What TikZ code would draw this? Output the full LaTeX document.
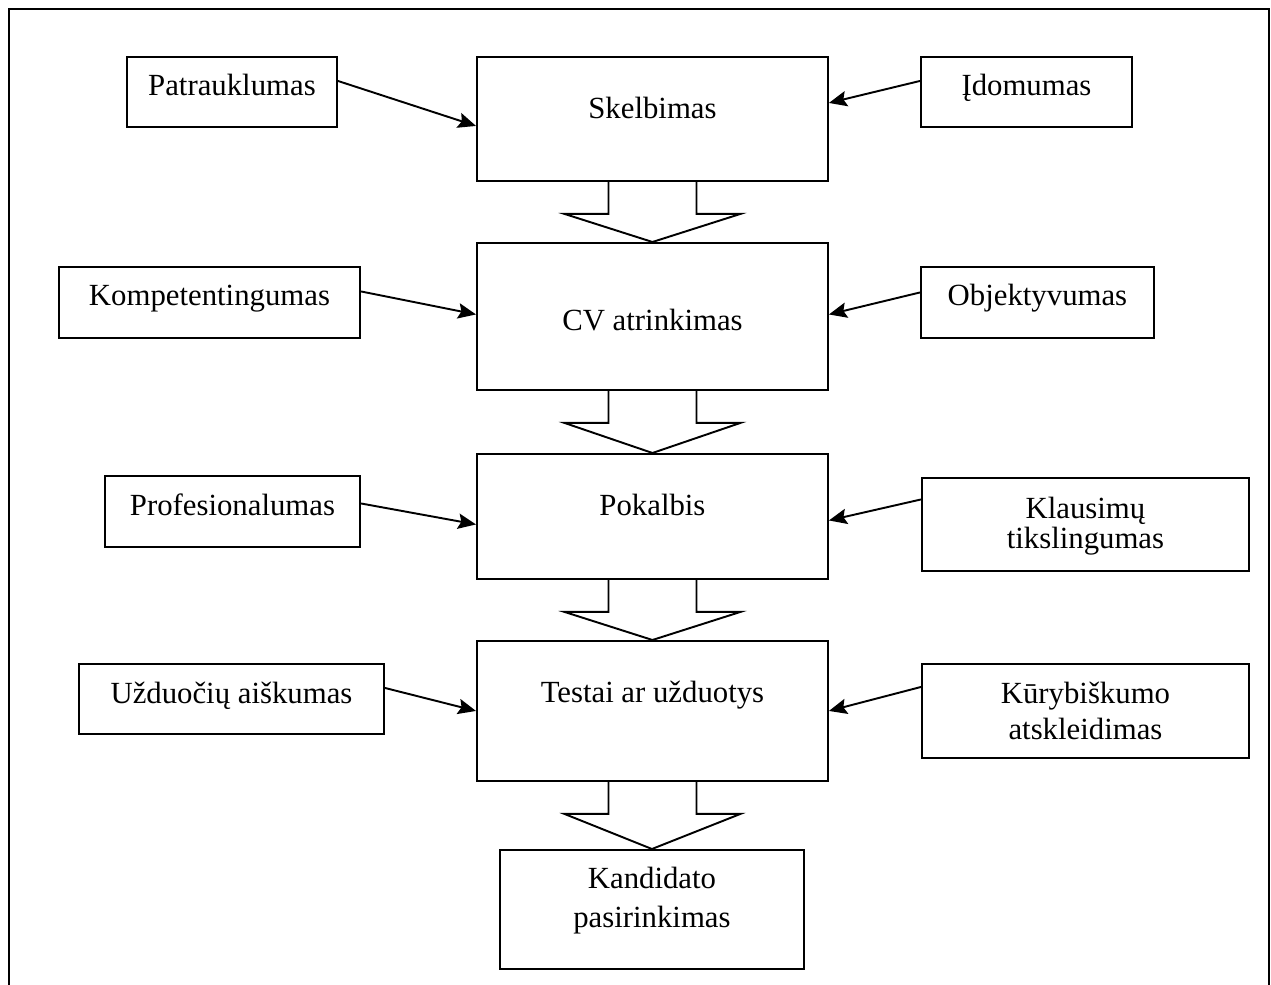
\documentclass[tikz,border=0pt]{standalone}
\usepackage{fontspec}
\setmainfont{Liberation Serif}
\usetikzlibrary{calc,arrows.meta}
\newlength\px
\setlength\px{0.39pt}

\begin{document}
\begin{tikzpicture}[x=0.39pt, y=-0.39pt, line width=0.75pt,
    font=\fontsize{12}{14}\selectfont,
    box/.style n args={3}{draw, anchor=north west, inner sep=0pt,
        minimum width=#1\px, text height=#2\px, text depth=#3\px},
    mbox/.style n args={3}{box={#1}{#2}{#3}, text width=#1\px, align=center},
    arr/.style={-{Stealth[length=7pt,width=6pt,inset=1.2pt]}}]
                        \useasboundingbox (0,0) rectangle (1271,985);
                        % frame, open at the bottom
                        \draw (9,985) |- (1269,9) -- (1269,985);

                        \node[box={351}{62}{62}]  (skelb)  at (476,56)  {Skelbimas};
                        \node[box={351}{88}{59}]  (cv)     at (476,242) {CV atrinkimas};
                        \node[box={351}{62}{63}]  (pokal)  at (476,453) {Pokalbis};
                        \node[box={351}{62}{78}]  (testai) at (476,640) {Testai ar užduotys};
                        \node[mbox={304}{39}{80}, font=\fontsize{12}{15}\selectfont]
                                                  (kand)   at (499,849) {Kandidato\\pasirinkimas};

                        \node[box={210}{39}{31}]  (patr)   at (126,56)  {Patrauklumas};
                        \node[box={211}{39}{31}]  (idom)   at (920,56)  {Įdomumas};
                        \node[box={301}{39}{32}]  (komp)   at (58,266)  {Kompetentingumas};
                        \node[box={233}{39}{32}]  (obj)    at (920,266) {Objektyvumas};
                        \node[box={255}{40}{31}]  (prof)   at (104,475) {Profesionalumas};
                        \node[mbox={327}{41}{52}, font=\fontsize{12}{11.5}\selectfont]
                                                  (klaus)  at (921,477) {Klausimų\\tikslingumas};
                        \node[box={305}{40}{30}]  (uzd)    at (78,663)  {Užduočių aiškumas};
                        \node[mbox={327}{40}{54}] (kury)   at (921,663) {Kūrybiškumo\\atskleidimas};

                        % block arrows between the stages
                        \foreach \a/\b in {skelb/cv, cv/pokal, pokal/testai, testai/kand}
                            \draw ($(\a.south)+(-44,0)$) -- ++(0,32) -- ++(-44,0) -- (\b.north)
                                -- ($(\a.south)+(88,32)$) -- ++(-44,0) -- ++(0,-32);

                        \draw[arr] ($(patr.east)+(0,-11)$)   -- ($(skelb.west)+(0,7)$);
                        \draw[arr] ($(idom.west)+(0,-11)$)   -- ($(skelb.east)+(0,-16)$);
                        \draw[arr] ($(komp.east)+(0,-11)$)   -- ($(cv.west)+(0,-2)$);
                        \draw[arr] ($(obj.west)+(0,-10)$)    -- ($(cv.east)+(0,-2)$);
                        \draw[arr] ($(prof.east)+(0,-8)$)    -- ($(pokal.west)+(0,8)$);
                        \draw[arr] ($(klaus.west)+(0,-25)$)  -- ($(pokal.east)+(0,4)$);
                        \draw[arr] ($(uzd.east)+(0,-11)$)    -- (testai.west);
                        \draw[arr] ($(kury.west)+(0,-24)$)   -- (testai.east);
                    \end{tikzpicture}
\end{document}
